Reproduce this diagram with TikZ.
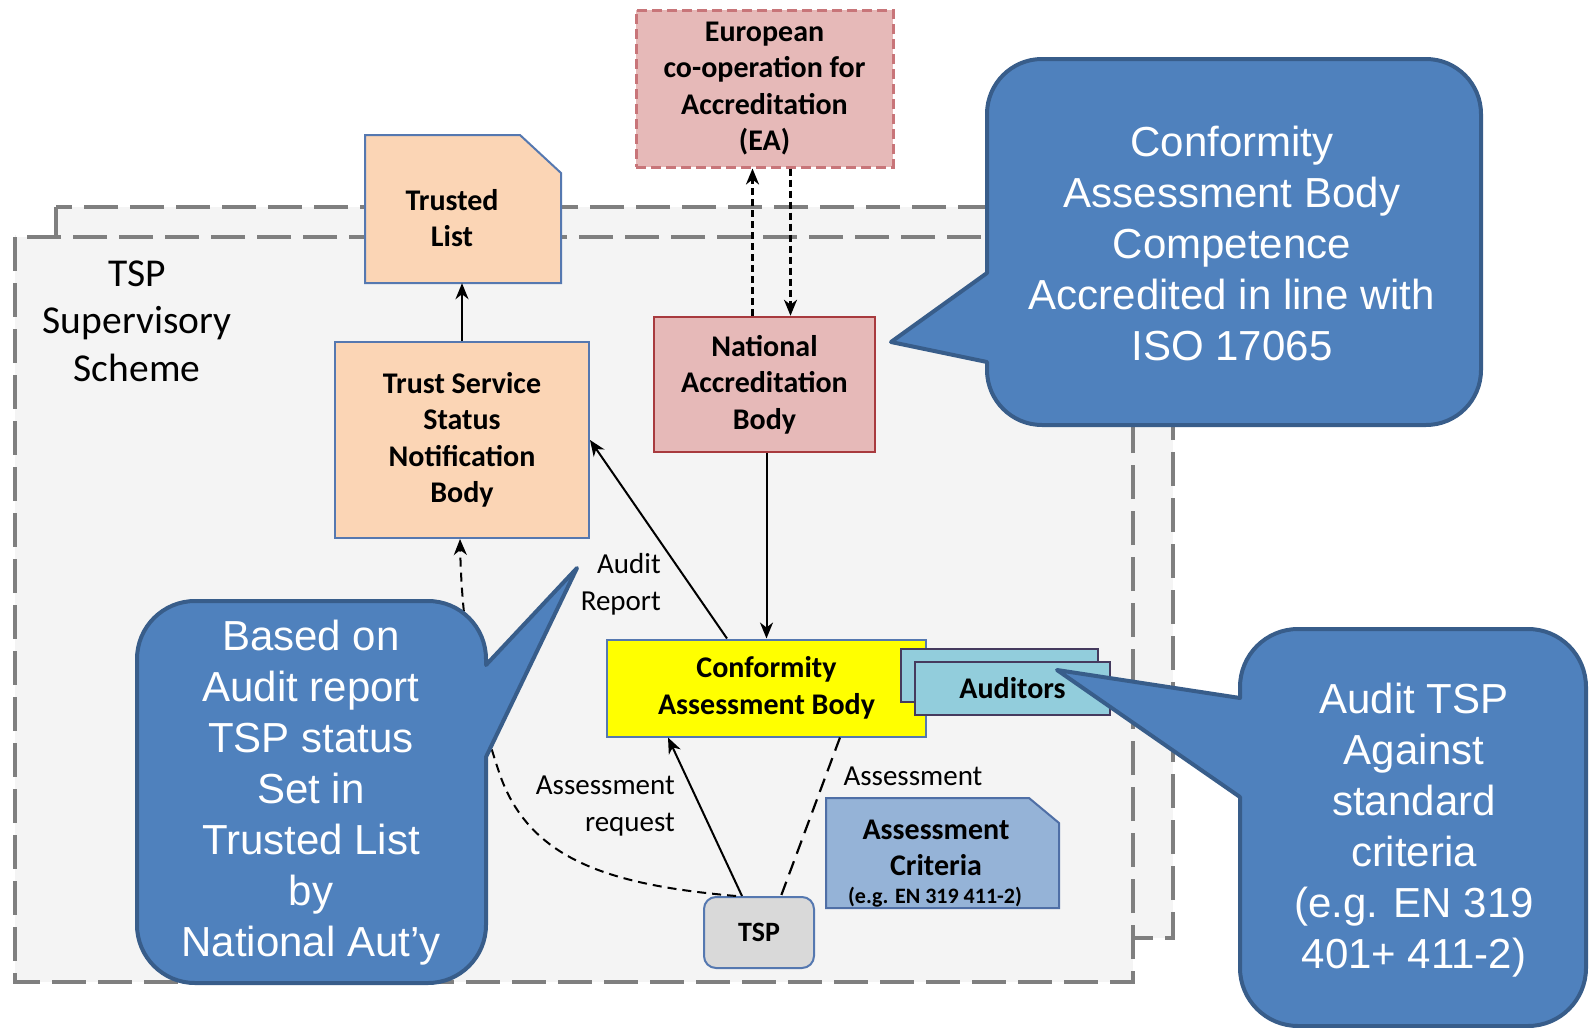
\documentclass[tikz,border=0pt]{standalone}
\usepackage{fontspec}
\setmainfont{Carlito}
\newfontfamily\callfont{Liberation Sans}
\usetikzlibrary{arrows.meta}
\definecolor{bggray}{HTML}{F4F4F4}
\definecolor{dgray}{HTML}{7F7F7F}
\definecolor{peach}{HTML}{FBD5B5}
\definecolor{boxblue}{HTML}{5578B0}
\definecolor{pinkfill}{HTML}{E6B9B8}
\definecolor{eaborder}{HTML}{C87579}
\definecolor{nabred}{HTML}{A83A3E}
\definecolor{cabyellow}{HTML}{FFFF00}
\definecolor{audfill}{HTML}{92CDDC}
\definecolor{audborder}{HTML}{453A5E}
\definecolor{tspgray}{HTML}{D9D9D9}
\definecolor{critfill}{HTML}{95B3D7}
\definecolor{critborder}{HTML}{4F6FA6}
\definecolor{callblue}{HTML}{4F81BD}
\definecolor{callborder}{HTML}{385D8A}
\begin{document}
\begin{tikzpicture}[x=1pt,y=-1pt,
  dbox/.style={draw=dgray, line width=4.5pt, dash pattern=on 34pt off 12pt, fill=bggray},
  rbox/.style={rectangle, inner sep=0pt, align=center, line width=2pt,
    font=\fontsize{30}{36.5}\selectfont\bfseries},
  boxtxt/.style={inner sep=0pt, align=center, font=\fontsize{30}{36.5}\selectfont\bfseries},
  lbl/.style={inner sep=0pt, align=center, font=\fontsize{29}{37}\selectfont},
  tip/.style={-{Stealth[length=16pt,width=13pt,inset=5pt]}},
  arr/.style={line width=2pt, tip},
  darr/.style={line width=2.5pt, dash pattern=on 7pt off 4pt, tip},
  callout/.style={fill=callblue, draw=callborder, line width=4pt, line join=round},
  calltext/.style={inner sep=0pt, align=center, text=white, font=\callfont\fontsize{42}{51}\selectfont}
]
\useasboundingbox (0,0) rectangle (1591,1028);
\fill[white] (0,0) rectangle (1591,1028);

% supervisory scheme frames
\draw[dbox] (56,207) rectangle (1173,938);
\draw[dbox] (15,237) rectangle (1133,982);

\node[font=\fontsize{39.5}{47.5}\selectfont, align=center, inner sep=0pt] (tspss) at (137,321) {TSP\\Supervisory\\Scheme};

% European co-operation
\node[rbox, fill=pinkfill, draw=eaborder, line width=3pt, dash pattern=on 10pt off 5pt,
  minimum width=257pt, minimum height=157pt] (ea) at (764.5,88.5) {European\\co-operation for\\Accreditation\\(EA)};

% Trusted list (document shape)
\filldraw[fill=peach, draw=boxblue, line width=2pt] (365,283) -- (365,135) -- (520,135) -- (561,173) -- (561,283) -- cycle;
\node[minimum width=196pt, minimum height=148pt, inner sep=0pt] (tl) at (463,209) {};
\node[boxtxt] (tltxt) at (452,218) {Trusted\\List};

% Trust service status notification body
\node[rbox, fill=peach, draw=boxblue, minimum width=254pt, minimum height=196pt] (tssnb) at (462,440)
  {Trust Service\\Status\\Notification\\Body};

% National accreditation body
\node[rbox, fill=pinkfill, draw=nabred, line width=2.5pt, minimum width=221pt, minimum height=135pt] (nab) at (764.5,384.5)
  {National\\Accreditation\\Body};

% Conformity assessment body
\node[rbox, fill=cabyellow, draw=boxblue, minimum width=319pt, minimum height=97pt] (cab) at (766.5,688)
  {Conformity\\Assessment Body};

% Auditors
\node[rbox, fill=audfill, draw=audborder, minimum width=197pt, minimum height=53pt] (aud1) at (999.5,675.5) {};
\node[rbox, fill=audfill, draw=audborder, minimum width=195pt, minimum height=53pt] (aud2) at (1012.5,688.5) {Auditors};

% TSP
\node[rbox, fill=tspgray, draw=boxblue, rounded corners=12pt, minimum width=110pt, minimum height=71pt,
  font=\fontsize{28}{34}\selectfont\bfseries] (tsp) at (759,932.5) {TSP};

% Assessment criteria (document shape)
\filldraw[fill=critfill, draw=critborder, line width=2pt] (826,908) -- (826,798) -- (1029,798) -- (1059,823) -- (1059,908) -- cycle;
\node[minimum width=233pt, minimum height=110pt, inner sep=0pt] (crit) at (942.5,853) {};
\node[boxtxt] (crittxt) at (936,848) {Assessment\\Criteria};
\node[inner sep=0pt, font=\fontsize{22}{25}\selectfont\bfseries] (critsub) at (935,897) {(e.g. EN 319 411-2)};

% connectors
\draw[arr] (tssnb.north) -- (tssnb.north |- tl.south);
\draw[darr] ([xshift=-12pt]nab.north) -- ([xshift=-12pt]ea.south);
\draw[darr] ([xshift=26pt]ea.south) -- ([xshift=26pt]nab.north);
\draw[arr] (cab.north |- nab.south) -- (cab.north);
\draw[arr] ([xshift=-39.5pt]cab.north) -- (tssnb.east);
\draw[arr] ([xshift=-17pt]tsp.north) -- ([xshift=-98.5pt]cab.south);
\draw[line width=2.2pt, dash pattern=on 14pt off 8pt] ([xshift=73.5pt]cab.south) -- ([xshift=22pt]tsp.north);
\draw[line width=2pt, dash pattern=on 9pt off 6pt, tip]
  ([xshift=-23pt]tsp.north) .. controls (610,885) and (530,860) .. (500,775)
  .. controls (478,710) and (462,640) .. ([xshift=-2pt]tssnb.south);

% labels
\node[lbl, align=right, anchor=east] (lrep) at (661,584) {Audit\\Report};
\node[lbl] (lass) at (913,776) {Assessment};
\node[lbl, align=right, anchor=east] (lreq) at (675,806) {Assessment\\request};

% callouts
\draw[callout] (1042,59) -- (1426,59) arc[start angle=270,end angle=360,radius=55]
  -- (1481,370) arc[start angle=0,end angle=90,radius=55]
  -- (1042,425) arc[start angle=90,end angle=180,radius=55]
  -- (987,362) -- (891,342) -- (987,273)
  -- (987,114) arc[start angle=180,end angle=270,radius=55] -- cycle;
\node[calltext] (c1) at (1232,243) {Conformity\\Assessment Body\\Competence\\Accredited in line with\\ISO 17065};

\draw[callout] (195,601) -- (428,601) arc[start angle=270,end angle=360,radius=58]
  -- (486,665) -- (577,568) -- (486,757)
  -- (486,925) arc[start angle=0,end angle=90,radius=58]
  -- (195,983) arc[start angle=90,end angle=180,radius=58]
  -- (137,659) arc[start angle=180,end angle=270,radius=58] -- cycle;
\node[calltext] (c2) at (311,793) {Based on\\Audit report\\TSP status\\Set in\\Trusted List\\by\\National Aut’y};

\draw[callout] (1298,629) -- (1528,629) arc[start angle=270,end angle=360,radius=58]
  -- (1586,968) arc[start angle=0,end angle=90,radius=58]
  -- (1298,1026) arc[start angle=90,end angle=180,radius=58]
  -- (1240,797) -- (1057,670) -- (1240,698)
  -- (1240,687) arc[start angle=180,end angle=270,radius=58] -- cycle;
\node[calltext] (c3) at (1414,830) {Audit TSP\\Against\\standard\\criteria\\(e.g. EN 319\\401+ 411-2)};
\end{tikzpicture}
\end{document}
